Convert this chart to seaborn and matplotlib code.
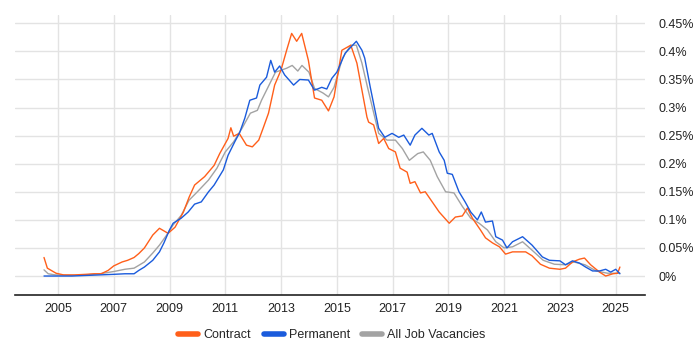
import pandas as pd
import matplotlib.pyplot as plt
import matplotlib.ticker as mticker
from matplotlib.lines import Line2D
import seaborn as sns

# Valores (% de vagas), ano decimal
anos_contract = [2004.5, 2004.62, 2004.93, 2005.2, 2005.6, 2006.0, 2006.3, 2006.55, 2006.8, 2007.0,
                 2007.3, 2007.5, 2007.73, 2007.9, 2008.1, 2008.4, 2008.64, 2008.95, 2009.2, 2009.5,
                 2009.7, 2009.9, 2010.26, 2010.6, 2010.8, 2011.1, 2011.2, 2011.3, 2011.5, 2011.76,
                 2011.97, 2012.2, 2012.37, 2012.55, 2012.77, 2013.0, 2013.2, 2013.38, 2013.56, 2013.74,
                 2013.98, 2014.2, 2014.46, 2014.7, 2014.9, 2015.18, 2015.5, 2015.72, 2015.9, 2016.08,
                 2016.14, 2016.32, 2016.5, 2016.68, 2016.86, 2017.1, 2017.27, 2017.52, 2017.63, 2017.8,
                 2018.0, 2018.17, 2018.42, 2018.67, 2019.03, 2019.25, 2019.5, 2019.68, 2019.86, 2020.15,
                 2020.33, 2020.58, 2020.83, 2021.05, 2021.3, 2021.55, 2021.77, 2022.0, 2022.3, 2022.62,
                 2023.0, 2023.2, 2023.45, 2023.7, 2023.88, 2024.1, 2024.42, 2024.64, 2024.9, 2025.07,
                 2025.15]
valores_contract = [0.033, 0.014, 0.005, 0.002, 0.002, 0.003, 0.004, 0.004, 0.010, 0.018,
                    0.025, 0.028, 0.033, 0.040, 0.050, 0.073, 0.085, 0.076, 0.087, 0.114,
                    0.140, 0.162, 0.177, 0.197, 0.218, 0.245, 0.264, 0.249, 0.254, 0.233,
                    0.230, 0.242, 0.265, 0.290, 0.340, 0.367, 0.402, 0.432, 0.418, 0.432,
                    0.384, 0.317, 0.313, 0.294, 0.319, 0.402, 0.411, 0.379, 0.331, 0.283,
                    0.274, 0.269, 0.236, 0.245, 0.227, 0.221, 0.192, 0.185, 0.165, 0.168,
                    0.148, 0.150, 0.132, 0.114, 0.094, 0.105, 0.107, 0.121, 0.103, 0.082,
                    0.068, 0.059, 0.052, 0.039, 0.043, 0.043, 0.043, 0.036, 0.021, 0.014,
                    0.012, 0.014, 0.025, 0.030, 0.032, 0.020, 0.007, 0.000, 0.004, 0.005,
                    0.016]

anos_permanent = [2004.5, 2005.0, 2005.5, 2006.0, 2006.5, 2007.0, 2007.4, 2007.73, 2007.9, 2008.1,
                  2008.4, 2008.64, 2008.8, 2009.0, 2009.13, 2009.42, 2009.67, 2009.9, 2010.14, 2010.4,
                  2010.6, 2010.93, 2011.1, 2011.34, 2011.52, 2011.7, 2011.88, 2012.12, 2012.24, 2012.48,
                  2012.63, 2012.77, 2012.95, 2013.13, 2013.45, 2013.67, 2013.98, 2014.2, 2014.46, 2014.64,
                  2014.82, 2015.0, 2015.3, 2015.7, 2015.9, 2016.0, 2016.2, 2016.5, 2016.72, 2016.98,
                  2017.22, 2017.4, 2017.63, 2017.8, 2018.05, 2018.3, 2018.42, 2018.67, 2018.85, 2018.96,
                  2019.14, 2019.38, 2019.6, 2019.8, 2020.04, 2020.18, 2020.33, 2020.58, 2020.7, 2020.94,
                  2021.1, 2021.3, 2021.66, 2022.0, 2022.37, 2022.62, 2023.0, 2023.2, 2023.45, 2023.7,
                  2023.92, 2024.17, 2024.42, 2024.64, 2024.82, 2025.0, 2025.15]
valores_permanent = [0.000, 0.000, 0.000, 0.001, 0.002, 0.003, 0.004, 0.004, 0.010, 0.016,
                     0.028, 0.043, 0.059, 0.082, 0.094, 0.103, 0.114, 0.128, 0.132, 0.150,
                     0.162, 0.189, 0.215, 0.239, 0.256, 0.281, 0.313, 0.317, 0.340, 0.354,
                     0.384, 0.363, 0.374, 0.358, 0.340, 0.350, 0.349, 0.331, 0.336, 0.333,
                     0.352, 0.363, 0.397, 0.418, 0.402, 0.388, 0.336, 0.263, 0.247, 0.254,
                     0.247, 0.251, 0.233, 0.251, 0.263, 0.251, 0.254, 0.221, 0.206, 0.183,
                     0.181, 0.150, 0.132, 0.114, 0.100, 0.114, 0.096, 0.098, 0.070, 0.064,
                     0.050, 0.061, 0.070, 0.055, 0.034, 0.028, 0.027, 0.020, 0.027, 0.023,
                     0.016, 0.009, 0.009, 0.012, 0.007, 0.012, 0.004]

anos_todas = [2004.5, 2004.65, 2004.9, 2005.5, 2006.0, 2006.5, 2007.0, 2007.4, 2007.73, 2008.1,
              2008.4, 2008.64, 2008.9, 2009.13, 2009.42, 2009.7, 2010.0, 2010.4, 2010.7, 2011.0,
              2011.3, 2011.6, 2011.9, 2012.15, 2012.3, 2012.6, 2012.8, 2013.2, 2013.4, 2013.6,
              2013.75, 2014.0, 2014.2, 2014.5, 2014.7, 2014.9, 2015.2, 2015.5, 2015.7, 2015.9,
              2016.1, 2016.3, 2016.5, 2016.8, 2017.1, 2017.35, 2017.6, 2017.9, 2018.1, 2018.35,
              2018.6, 2018.9, 2019.2, 2019.5, 2019.8, 2020.1, 2020.4, 2020.7, 2021.0, 2021.3,
              2021.66, 2022.0, 2022.4, 2022.8, 2023.2, 2023.5, 2023.9, 2024.3, 2024.7, 2025.15]
valores_todas = [0.011, 0.004, 0.002, 0.001, 0.002, 0.004, 0.008, 0.012, 0.014, 0.025,
                 0.041, 0.055, 0.073, 0.091, 0.108, 0.135, 0.150, 0.171, 0.192, 0.221,
                 0.239, 0.263, 0.290, 0.295, 0.313, 0.343, 0.363, 0.370, 0.375, 0.365,
                 0.375, 0.363, 0.334, 0.326, 0.319, 0.336, 0.388, 0.411, 0.411, 0.379,
                 0.336, 0.295, 0.254, 0.242, 0.242, 0.227, 0.206, 0.218, 0.221, 0.206,
                 0.177, 0.150, 0.148, 0.124, 0.103, 0.094, 0.082, 0.061, 0.050, 0.052,
                 0.061, 0.046, 0.028, 0.021, 0.020, 0.025, 0.020, 0.009, 0.005, 0.005]

anos_ticks = [2005, 2007, 2009, 2011, 2013, 2015, 2017, 2019, 2021, 2023, 2025]
ticks_y = [0, 0.05, 0.1, 0.15, 0.2, 0.25, 0.3, 0.35, 0.4, 0.45]

cores = {"Contract": "#ff5f1a", "Permanent": "#1a5bdc", "All Job Vacancies": "#a3a3a3"}

# Montar tabela em formato longo
dados = pd.concat([
    pd.DataFrame({"ano": anos_contract, "valor": valores_contract, "serie": "Contract"}),
    pd.DataFrame({"ano": anos_permanent, "valor": valores_permanent, "serie": "Permanent"}),
    pd.DataFrame({"ano": anos_todas, "valor": valores_todas, "serie": "All Job Vacancies"}),
])

sns.set_style("white")
plt.rcParams["font.family"] = ["Liberation Sans", "DejaVu Sans"]

fig = plt.figure(figsize=(7, 3.5), dpi=100)
ax = fig.add_axes([15 / 700, 55 / 350, 630 / 700, 280 / 350])

# desenhar em ordem: cinza embaixo, depois laranja, azul
ordem = ["All Job Vacancies", "Contract", "Permanent"]
sns.lineplot(data=dados, x="ano", y="valor", hue="serie", hue_order=ordem,
             palette=cores, linewidth=1, legend=False, ax=ax, estimator=None, sort=True)

ax.set_xlim(2003.46, 2026.05)
ax.set_ylim(-0.0338, 0.4648)
ax.set_xticks(anos_ticks)
ax.set_yticks(ticks_y)
ax.yaxis.set_major_formatter(mticker.FuncFormatter(lambda v, p: f"{v:g}%"))
ax.yaxis.tick_right()
ax.tick_params(axis="both", length=0, labelsize=9, colors="#222222")
ax.tick_params(axis="y", pad=10)
ax.tick_params(axis="x", pad=6)
ax.set_xlabel("")
ax.set_ylabel("")

ax.grid(True, color="#e3e3e3", linewidth=1)
ax.set_axisbelow(True)
for lado in ["top", "right", "left"]:
    ax.spines[lado].set_visible(False)
ax.spines["bottom"].set_color("#222222")
ax.spines["bottom"].set_linewidth(1.2)

# legenda embaixo, centralizada
legenda = [Line2D([0], [0], color=cores[s], linewidth=4) for s in ["Contract", "Permanent", "All Job Vacancies"]]
fig.legend(legenda, ["Contract", "Permanent", "All Job Vacancies"], loc="center",
           bbox_to_anchor=(332 / 700, 15 / 350), ncol=3, frameon=False, fontsize=9,
           handlelength=1.6, handletextpad=0.4, columnspacing=1.0)

fig.savefig("out.png", dpi=100)
